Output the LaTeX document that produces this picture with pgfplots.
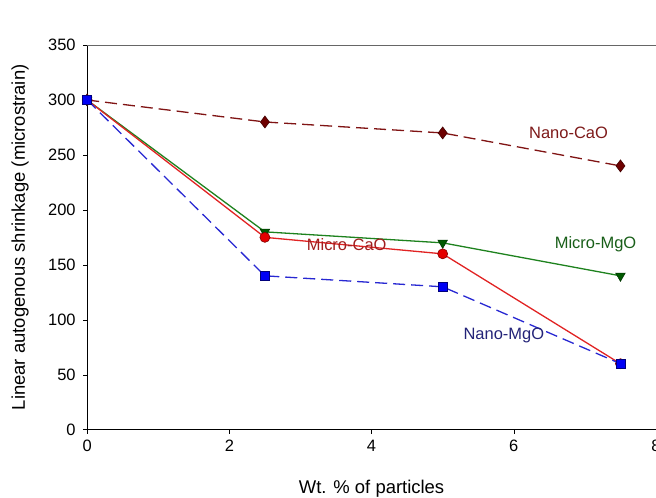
\documentclass[border=0pt]{standalone}
\usepackage{pgfplots}
\pgfplotsset{compat=1.18}
\usepackage{fontspec}
\setmainfont{Liberation Sans}
\definecolor{ncao}{RGB}{128,20,20}
\definecolor{ncaomk}{RGB}{110,0,0}
\definecolor{mcao}{RGB}{225,35,35}
\definecolor{mmgo}{RGB}{30,130,30}
\definecolor{mmgomk}{RGB}{0,90,0}
\definecolor{nmgo}{RGB}{40,40,210}
\definecolor{nmgomk}{RGB}{0,0,245}
\definecolor{ncaot}{RGB}{125,25,25}
\definecolor{mcaot}{RGB}{160,30,30}
\definecolor{mmgot}{RGB}{25,95,25}
\definecolor{nmgot}{RGB}{35,35,120}
\begin{document}
\begin{tikzpicture}[x=1bp,y=1bp]
\begin{axis}[
  name=ax,
  at={(0,0)}, anchor=south west,
  scale only axis,
  width=568bp, height=384bp,
  xmin=0, xmax=8, ymin=0, ymax=350,
  xtick={0,2,4,6,8}, ytick={0,50,...,350},
  tick align=outside,
  tick style={black, thin},
  major tick length=4bp,
  axis x line*=bottom,
  axis y line*=left,
  x axis line style={black, -},
  y axis line style={black, -},
  ticklabel style={font=\fontsize{16.5}{18}\selectfont},
  xticklabel style={yshift=-3bp},
  yticklabel style={xshift=-4bp},
  /pgf/number format/assume math mode=true,
  xlabel={Wt. \% of particles},
  ylabel={Linear autogenous shrinkage (microstrain)},
  every axis x label/.style={at={(axis description cs:0.5,0)}, anchor=center, yshift=-59bp, font=\fontsize{18.5}{20}\selectfont},
  every axis y label/.style={at={(axis description cs:0,0.5)}, anchor=center, xshift=-67bp, rotate=90, font=\fontsize{18.5}{20}\selectfont},
  clip=false,
]
\addplot[ncao, line width=1.3bp, dash pattern=on 12bp off 6bp, mark=diamond*, mark size=6bp, mark options={solid, fill=ncaomk, draw=ncaomk!60!black, line width=0.6bp}]
  coordinates {(0,300) (2.5,280) (5,270) (7.5,240)};
\addplot[mmgo, line width=1.3bp, mark=triangle*, mark size=5.5bp, mark options={solid, rotate=180, fill=mmgomk, draw=mmgomk!60!black, line width=0.6bp}]
  coordinates {(0,300) (2.5,180) (5,170) (7.5,140)};
\addplot[mcao, line width=1.3bp, mark=*, mark size=5bp, mark options={solid, fill=red!90!black, draw=red!50!black, line width=0.6bp}]
  coordinates {(0,300) (2.5,175) (5,160) (7.5,60)};
\addplot[nmgo, line width=1.3bp, dash pattern=on 12bp off 6bp, mark=square*, mark size=4.5bp, mark options={solid, fill=nmgomk, draw=nmgomk!50!black, line width=0.6bp}]
  coordinates {(0,300) (2.5,140) (5,130) (7.5,60)};
\node[ncaot, font=\fontsize{16.5}{18}\selectfont] at (axis cs:6.77,270) {Nano-CaO};
\node[mcaot, font=\fontsize{16.5}{18}\selectfont] at (axis cs:3.65,168) {Micro-CaO};
\node[mmgot, font=\fontsize{16.5}{18}\selectfont] at (axis cs:7.15,169) {Micro-MgO};
\node[nmgot, font=\fontsize{16.5}{18}\selectfont] at (axis cs:5.86,86) {Nano-MgO};
\draw[gray!80!black, line width=1bp] (axis cs:0,350) -- (axis cs:8,350);
\end{axis}
\pgfresetboundingbox
\path (-87,-68) rectangle (568,429);
\end{tikzpicture}
\end{document}
